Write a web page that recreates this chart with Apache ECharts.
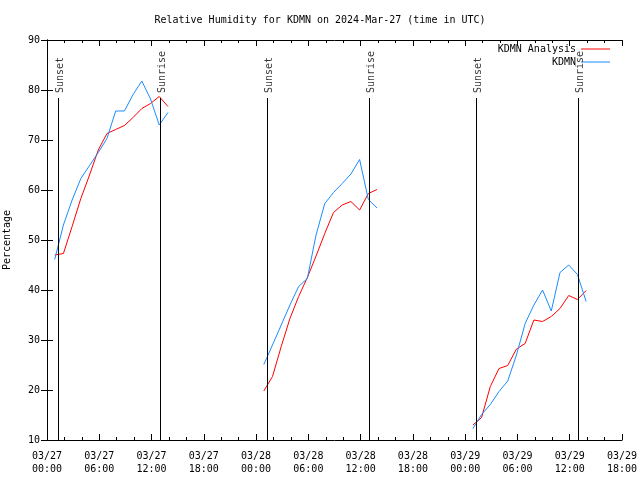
<!DOCTYPE html>
<html>
<head>
<meta charset="utf-8">
<script src="https://cdn.jsdelivr.net/npm/echarts@6/dist/echarts.min.js"></script>
<style>html,body{margin:0;padding:0;background:#fff}#c{width:640px;height:480px}</style>
</head>
<body>
<div id="c"></div>
<script>
// ---- data ----
const obsTimes = [
  '2024-03-27 00:53','2024-03-27 01:53','2024-03-27 02:53','2024-03-27 03:53','2024-03-27 04:53','2024-03-27 05:53','2024-03-27 06:53',
  '2024-03-27 07:53','2024-03-27 08:53','2024-03-27 09:53','2024-03-27 10:53','2024-03-27 11:53','2024-03-27 12:53','2024-03-27 13:53',
  '2024-03-28 00:53','2024-03-28 01:53','2024-03-28 02:53','2024-03-28 03:53','2024-03-28 04:53','2024-03-28 05:53','2024-03-28 06:53',
  '2024-03-28 07:53','2024-03-28 08:53','2024-03-28 09:53','2024-03-28 10:53','2024-03-28 11:53','2024-03-28 12:53','2024-03-28 13:53',
  '2024-03-29 00:53','2024-03-29 01:53','2024-03-29 02:53','2024-03-29 03:53','2024-03-29 04:53','2024-03-29 05:53','2024-03-29 06:53',
  '2024-03-29 07:53','2024-03-29 08:53','2024-03-29 09:53','2024-03-29 10:53','2024-03-29 11:53','2024-03-29 12:53','2024-03-29 13:53'
];
const analysisRH = [
  47.0, 47.3, 52.7, 58.3, 63.0, 68.0, 71.3, 72.1, 72.9, 74.5, 76.3, 77.3, 78.7, 76.7,
  19.8, 22.7, 28.7, 34.3, 38.7, 42.5, 46.8, 51.3, 55.5, 57.0, 57.7, 56.0, 59.3, 60.1,
  13.0, 14.5, 20.7, 24.3, 24.9, 28.2, 29.3, 34.0, 33.7, 34.7, 36.3, 38.9, 38.1, 39.9
];
const kdmnRH = [
  46.1, 53.0, 58.0, 62.3, 64.9, 67.5, 70.3, 75.8, 75.8, 79.1, 81.8, 78.2, 73.0, 75.5,
  25.1, 29.0, 33.0, 37.0, 40.7, 42.3, 51.0, 57.3, 59.5, 61.3, 63.2, 66.1, 58.1, 56.4,
  12.3, 15.1, 17.1, 19.7, 21.8, 27.0, 33.3, 37.0, 40.0, 35.8, 43.5, 45.0, 43.1, 37.7
];
const sunsetTimes  = ['2024-03-27 01:18','2024-03-28 01:16','2024-03-29 01:18'];
const sunriseTimes = ['2024-03-27 13:00','2024-03-28 13:00','2024-03-29 13:00'];
const xTickLabels = ['03/27\n00:00','03/27\n06:00','03/27\n12:00','03/27\n18:00',
                     '03/28\n00:00','03/28\n06:00','03/28\n12:00','03/28\n18:00',
                     '03/29\n00:00','03/29\n06:00','03/29\n12:00','03/29\n18:00'];
const yTicks = [10,20,30,40,50,60,70,80,90];
const seriesNames = ['KDMN Analysis','KDMN'];
const titleText = 'Relative Humidity for KDMN on 2024-Mar-27 (time in UTC)';

// ---- helpers ----
const START = Date.UTC(2024,2,27,0,0);
function hrs(s){ return (Date.parse(s.replace(' ','T')+':00Z') - START)/3600000; }
function build(vals){
  const out = [];
  for (let i=0;i<obsTimes.length;i++){
    const h = hrs(obsTimes[i]);
    if (i>0 && h - hrs(obsTimes[i-1]) > 2) out.push([h-1, null]);
    out.push([h, vals[i]]);
  }
  return out;
}
const FONT = 'DejaVu Sans Mono';
const LINE_TOP = 78.4;
const sunPts = sunsetTimes.map(t=>[hrs(t), LINE_TOP+1, 'Sunset'])
  .concat(sunriseTimes.map(t=>[hrs(t), LINE_TOP+1, 'Sunrise']));

const chart = echarts.init(document.getElementById('c'), null, {renderer:'canvas'});
const xCommon = {type:'value', min:0, max:66, interval:6,
  splitLine:{show:false},
  axisLine:{show:true, lineStyle:{color:'#000', width:1}},
  axisTick:{show:true, inside:true, length:6, lineStyle:{color:'#000'}},
  minorTick:{show:true, splitNumber:3, length:3, lineStyle:{color:'#000'}}};
const yCommon = {type:'value', min:yTicks[0], max:yTicks[yTicks.length-1], interval:10,
  splitLine:{show:false},
  axisLine:{show:true, lineStyle:{color:'#000', width:1}},
  axisTick:{show:true, inside:true, length:6, lineStyle:{color:'#000'}}};

chart.setOption({
  animation:false,
  backgroundColor:'#fff',
  title:{text:titleText, left:'center', top:10,
    textStyle:{fontFamily:FONT, fontSize:10, fontWeight:'normal', color:'#000'}},
  grid:{left:47, right:18, top:40, bottom:40, containLabel:false, outerBoundsMode:'none'},
  legend:{orient:'vertical', right:30, top:44, padding:0, align:'right',
    itemWidth:29, itemHeight:1, itemGap:3, selectedMode:false,
    data:[{name:seriesNames[0], icon:'rect', itemStyle:{color:'#ff0000'}},
          {name:seriesNames[1], icon:'rect', itemStyle:{color:'#1a8cff'}}],
    textStyle:{fontFamily:FONT, fontSize:10, color:'#000', lineHeight:10}},
  xAxis:[
    Object.assign({}, xCommon, {position:'bottom',
      axisLabel:{show:true, margin:10, fontFamily:FONT, fontSize:10, color:'#000', lineHeight:13,
        showMinLabel:true, showMaxLabel:true,
        formatter:v=>xTickLabels[Math.round(v/6)]}}),
    Object.assign({}, xCommon, {position:'top', axisLabel:{show:false}})
  ],
  yAxis:[
    Object.assign({}, yCommon, {position:'left', name:'Percentage', nameLocation:'middle', nameGap:35,
      nameTextStyle:{fontFamily:FONT, fontSize:10, color:'#000'},
      axisLabel:{show:true, margin:7, fontFamily:FONT, fontSize:10, color:'#000'}}),
    Object.assign({}, yCommon, {position:'right', axisLabel:{show:false}})
  ],
  series:[
    {name:seriesNames[0], type:'line', data:build(analysisRH), symbol:'none', connectNulls:false,
      lineStyle:{color:'#ff0000', width:1}, itemStyle:{color:'#ff0000'}, z:3},
    {name:seriesNames[1], type:'line', data:build(kdmnRH), symbol:'none', connectNulls:false,
      lineStyle:{color:'#1a8cff', width:1}, itemStyle:{color:'#1a8cff'}, z:4},
    {name:'sun', type:'scatter', data:sunPts, symbolSize:0, silent:true, z:5,
      label:{show:true, position:'inside', rotate:90, align:'left', verticalAlign:'middle',
        offset:[0,2], fontFamily:FONT, fontSize:10, color:'#000', formatter:p=>p.value[2]},
      markLine:{silent:true, symbol:['none','none'], label:{show:false},
        lineStyle:{color:'#000', width:1, type:'solid'},
        data:sunPts.map(p=>[{coord:[p[0], yTicks[0]]},{coord:[p[0], LINE_TOP]}])}}
  ]
});
</script>
</body>
</html>
